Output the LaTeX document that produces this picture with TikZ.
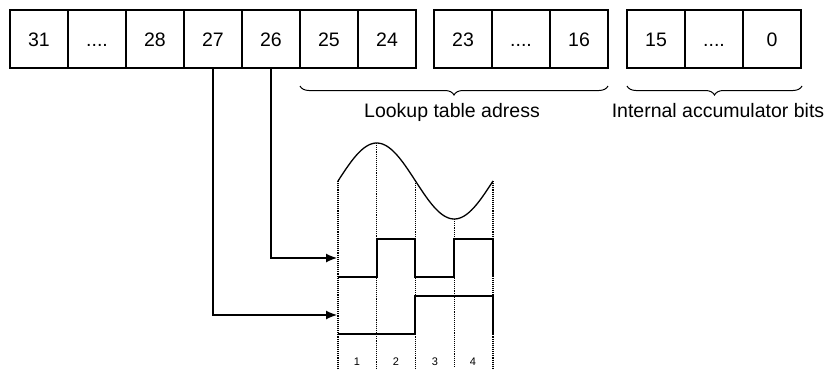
\documentclass[tikz,border=0pt]{standalone}
\usepackage{fontspec}
\setmainfont{Liberation Sans}
\usetikzlibrary{arrows.meta,decorations.pathreplacing}
\begin{document}
\begin{tikzpicture}[x=1pt,y=-1pt,
  cell/.style={draw,line width=1.1pt,minimum width=58pt,minimum height=58pt,inner sep=0pt,
    text height=14pt,text depth=0pt,font=\fontsize{19.5}{23}\selectfont},
  lbl/.style={font=\fontsize{19.5}{23}\selectfont,inner sep=0pt,anchor=base},
  small/.style={font=\fontsize{11}{13}\selectfont,inner sep=0pt},
  feed/.style={line width=1.2pt,-{Latex[length=11pt,width=9pt]}},
  wave/.style={line width=1.3pt},
  grid/.style={line width=1.1pt,densely dotted},
  brc/.style={line width=1pt,decorate,decoration={brace,mirror,amplitude=9pt}}]
\useasboundingbox (0,0) rectangle (825,368);
% register cells
\node[cell] (b31) at (39,39) {31};
\node[cell] (bd1) at (97,39) {....};
\node[cell] (b28) at (155,39) {28};
\node[cell] (b27) at (213,39) {27};
\node[cell] (b26) at (271,39) {26};
\node[cell] (b25) at (329,39) {25};
\node[cell] (b24) at (387,39) {24};
\node[cell] (b23) at (463,39) {23};
\node[cell] (bd2) at (521,39) {....};
\node[cell] (b16) at (579,39) {16};
\node[cell] (b15) at (656,39) {15};
\node[cell] (bd3) at (714,39) {....};
\node[cell] (b0) at (772,39) {0};
% braces
\coordinate (ba1) at (300,86);
\coordinate (ba2) at (608,86);
\coordinate (bb1) at (627,86);
\coordinate (bb2) at (802,86);
\draw[brc] (ba1) -- (ba2);
\draw[brc] (bb1) -- (bb2);
\node[lbl] (lut) at (452,117) {Lookup table adress};
\node[lbl] (acc) at (718,117) {Internal accumulator bits};
% sine curve
\draw[line width=1.3pt] plot[domain=0:155,samples=80] ({338+\x},{181-38*sin(2.32258*\x)});
% dotted grid
\coordinate (g0) at (338,181);
\coordinate (g1) at (376.75,143);
\coordinate (g2) at (415.5,181);
\coordinate (g3) at (454.25,219);
\coordinate (g4) at (493,181);
\foreach \g in {g0,g1,g2,g3,g4}{
  \draw[grid] (\g) -- (\g |- 0,368);
}
% square waves
\draw[wave] (338,277) -- (377,277) -- (377,239) -- (415,239) -- (415,277) -- (454,277) -- (454,239) -- (493,239) -- (493,277);
\draw[wave] (338,334) -- (415,334) -- (415,296) -- (493,296) -- (493,334);
% feeds
\coordinate (in26) at (337,258);
\coordinate (in27) at (337,315);
\draw[feed] (b26.south) |- (in26);
\draw[feed] (b27.south) |- (in27);
% slot numbers
\node[small] (n1) at (357,362) {1};
\node[small] (n2) at (396,362) {2};
\node[small] (n3) at (435,362) {3};
\node[small] (n4) at (473,362) {4};
\end{tikzpicture}
\end{document}
